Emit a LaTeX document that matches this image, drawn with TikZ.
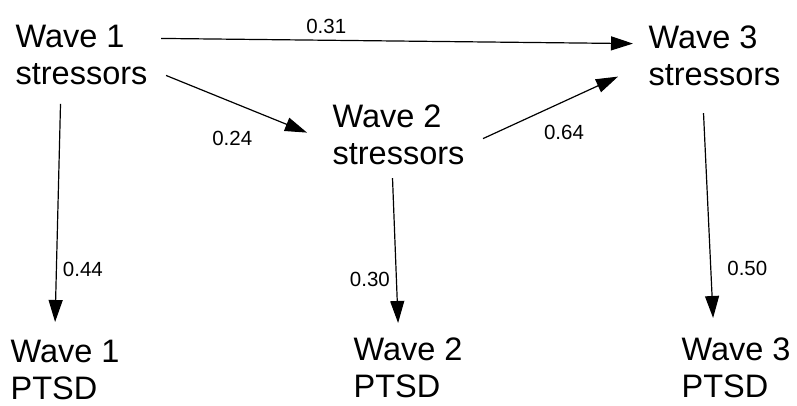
\documentclass[tikz,border=0pt]{standalone}
\usepackage{fontspec}
\setmainfont{Liberation Sans}
\usetikzlibrary{arrows.meta}

\begin{document}
\begin{tikzpicture}[x=1pt, y=-1pt, >={Triangle[length=22pt,width=14pt]}, line width=1.2pt,
    wave/.style={anchor=north west, inner sep=0pt, align=left, font=\fontsize{32.5}{37}\selectfont},
    coef/.style={inner sep=0pt, font=\fontsize{20.5}{24}\selectfont}]
            \useasboundingbox[fill=white] (0,0) rectangle (797,406);

            % Stressors at each wave
            \node[wave] (w1s) at (15,25) {Wave 1\\stressors};
            \node[wave] (w2s) at (332,104) {Wave 2\\stressors};
            \node[wave] (w3s) at (648,25) {Wave 3\\stressors};

            % PTSD at each wave
            \node[wave] (w1p) at (10,340) {Wave 1\\PTSD};
            \node[wave] (w2p) at (353,337) {Wave 2\\PTSD};
            \node[wave] (w3p) at (681,337) {Wave 3\\PTSD};

            % Paths between stressors
            \draw[->] ([xshift=13pt,yshift=17pt]w1s.east) -- ([xshift=-15pt,yshift=12pt]w3s.west) node[coef, pos=0.35, above=6pt] {0.31};
            \draw[->] ([xshift=18pt,yshift=-20pt]w1s.east) -- ([xshift=-25pt,yshift=2pt]w2s.west) node[coef, pos=0.47, below=28pt] {0.24};
            \draw[->] ([xshift=18pt,yshift=-4pt]w2s.east) -- ([xshift=-30pt,yshift=-21pt]w3s.west) node[coef, pos=0.6, below=23pt] {0.64};

            % Paths from stressors to PTSD
            \draw[->] ([xshift=-21pt,yshift=-18pt]w1s.south) -- ([xshift=-10pt,yshift=18pt]w1p.north) node[coef, pos=0.76, right=6pt] {0.44};
            \draw[->] ([xshift=-6pt,yshift=-13pt]w2s.south) -- ([xshift=-10pt,yshift=14pt]w2p.north) node[coef, pos=0.7, left=6pt] {0.30};
            \draw[->] ([xshift=-11pt,yshift=-27pt]w3s.south) -- ([xshift=-23pt,yshift=19pt]w3p.north) node[coef, pos=0.76, right=16pt] {0.50};
        \end{tikzpicture}
\end{document}
